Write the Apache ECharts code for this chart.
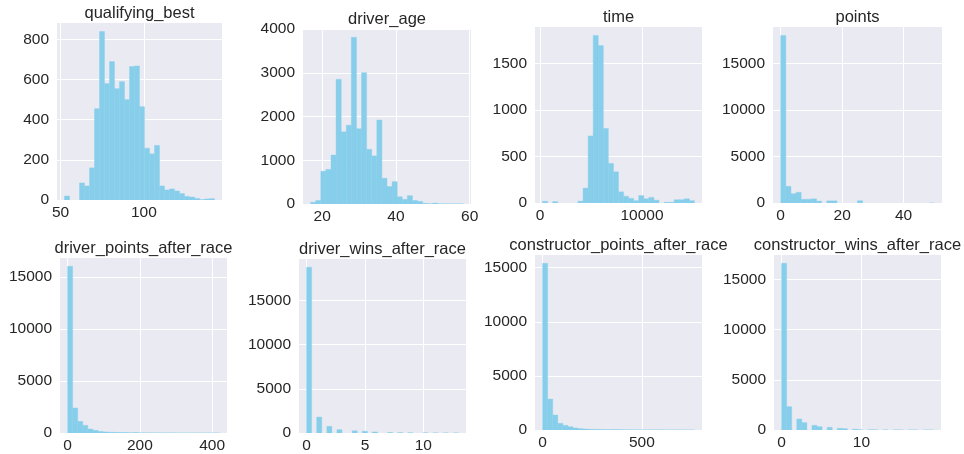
<!DOCTYPE html>
<html>
<head>
<meta charset="utf-8">
<script src="https://cdn.jsdelivr.net/npm/echarts@6/dist/echarts.min.js"></script>
<style>
  html, body { margin: 0; background: #fff; }
  #chart { width: 964px; height: 454px; }
</style>
</head>
<body>
<div id="chart"></div>
<script>
// histogram counts, 30 bins each
const titles = [
  'qualifying_best', 'driver_age', 'time', 'points',
  'driver_points_after_race', 'driver_wins_after_race',
  'constructor_points_after_race', 'constructor_wins_after_race'
]
const qualifyingBest = [20, 0, 0, 85, 70, 160, 455, 840, 580, 690, 555, 590, 500, 665, 668, 465, 258, 230, 272, 70, 50, 55, 45, 32, 18, 15, 8, 2, 5, 7]
const driverAge = [40, 80, 750, 790, 1120, 2850, 1650, 1800, 3810, 1720, 3000, 1250, 1100, 1920, 590, 400, 510, 165, 105, 190, 80, 60, 15, 5, 20, 3, 3, 2, 2, 2]
const time = [18, 0, 15, 0, 0, 0, 0, 20, 160, 720, 1800, 1690, 800, 425, 335, 120, 72, 50, 25, 80, 45, 60, 30, 0, 8, 8, 35, 35, 45, 25]
const points = [18050, 1795, 1005, 1150, 395, 400, 450, 200, 0, 230, 230, 0, 0, 0, 0, 250, 0, 0, 0, 0, 0, 0, 0, 0, 0, 0, 0, 0, 0, 3]
const driverPoints = [16000, 2400, 1110, 730, 380, 250, 150, 100, 70, 60, 40, 40, 20, 40, 10, 10, 8, 8, 6, 5, 4, 3, 3, 2, 2, 1, 1, 1, 1, 1]
const driverWins = [18750, 0, 1800, 0, 750, 0, 375, 0, 0, 250, 0, 200, 0, 120, 0, 0, 60, 0, 40, 0, 30, 0, 0, 20, 0, 12, 0, 8, 0, 5]
const constructorPoints = [15400, 2860, 1385, 616, 430, 300, 185, 120, 90, 60, 50, 40, 30, 30, 45, 20, 15, 10, 8, 6, 5, 4, 3, 3, 2, 2, 1, 1, 1, 1]
const constructorWins = [16590, 2320, 0, 1095, 730, 0, 465, 330, 0, 265, 0, 165, 130, 0, 70, 30, 0, 20, 15, 0, 10, 0, 8, 6, 0, 5, 4, 0, 3, 2]

// data range (low edge, high edge) of each histogram
const binRanges = [[52.4, 142.4], [16.85, 58.3], [254, 15135], [0, 50], [0, 420], [0, 13], [0, 765], [0, 19]]
const xTicks = [[50, 100], [20, 40, 60], [0, 10000], [0, 20, 40], [0, 200, 400], [0, 5, 10], [0, 500], [0, 10]]
const yTicks = [
  [0, 200, 400, 600, 800], [0, 1000, 2000, 3000, 4000], [0, 500, 1000, 1500], [0, 5000, 10000, 15000],
  [0, 5000, 10000, 15000], [0, 5000, 10000, 15000], [0, 5000, 10000, 15000], [0, 5000, 10000, 15000]
]
const allCounts = [qualifyingBest, driverAge, time, points, driverPoints, driverWins, constructorPoints, constructorWins]

// plot boxes: left, top, width, height
const boxes = [
  [57, 23, 165, 177], [303, 29, 168, 175], [535, 27, 167, 176], [773, 27, 169, 176],
  [60, 258, 167, 175], [299, 259, 167, 174], [535, 255, 167, 175], [774, 255, 167, 175]
]

const FONT = '"Liberation Sans", Arial, sans-serif'
const TXT = '#262626'
const BAR = '#87CEEB'

function binsOf(counts, range) {
  const w = (range[1] - range[0]) / counts.length
  return counts.map((c, i) => [range[0] + i * w, range[0] + (i + 1) * w, c])
}

function renderBar(params, api) {
  const c = api.value(2)
  if (!c) return null
  const p0 = api.coord([api.value(0), c])
  const p1 = api.coord([api.value(1), 0])
  return {
    type: 'rect',
    shape: { x: p0[0], y: p0[1], width: p1[0] - p0[0], height: p1[1] - p0[1] },
    style: { fill: BAR, stroke: BAR, lineWidth: 0.4 }
  }
}

const plain = v => String(v)
const grid = [], xAxis = [], yAxis = [], series = [], title = []

allCounts.forEach((counts, i) => {
  const [l, t, w, h] = boxes[i]
  const range = binRanges[i]
  const pad = (range[1] - range[0]) * 0.05
  grid.push({ left: l, top: t, width: w, height: h, show: true, backgroundColor: '#EAEAF2', borderWidth: 0 })
  title.push({
    text: titles[i], left: l + w / 2, top: t - 18, textAlign: 'center', padding: 0,
    textStyle: { fontFamily: FONT, fontSize: 16.5, fontWeight: 'normal', color: TXT }
  })
  xAxis.push({
    gridIndex: i, type: 'value', min: range[0] - pad, max: range[1] + pad,
    axisLine: { show: false },
    axisTick: { show: false, customValues: xTicks[i] },
    axisLabel: { customValues: xTicks[i], formatter: plain, color: TXT, fontFamily: FONT, fontSize: 15.5, margin: 5 },
    splitLine: { show: true, lineStyle: { color: '#fff', width: 1 } }
  })
  yAxis.push({
    gridIndex: i, type: 'value', min: 0, max: Math.max(...counts) * 1.05,
    axisLine: { show: false },
    axisTick: { show: false, customValues: yTicks[i] },
    axisLabel: { customValues: yTicks[i], formatter: plain, color: TXT, fontFamily: FONT, fontSize: 15.5, margin: 8 },
    splitLine: { show: true, lineStyle: { color: '#fff', width: 1 } }
  })
  series.push({
    type: 'custom', xAxisIndex: i, yAxisIndex: i, silent: true, clip: true,
    encode: { x: [0, 1], y: 2 },
    renderItem: renderBar,
    data: binsOf(counts, range)
  })
})

const chart = echarts.init(document.getElementById('chart'), null, { renderer: 'canvas' })
chart.setOption({
  backgroundColor: '#fff',
  animation: false,
  title, grid, xAxis, yAxis, series
})
</script>
</body>
</html>
